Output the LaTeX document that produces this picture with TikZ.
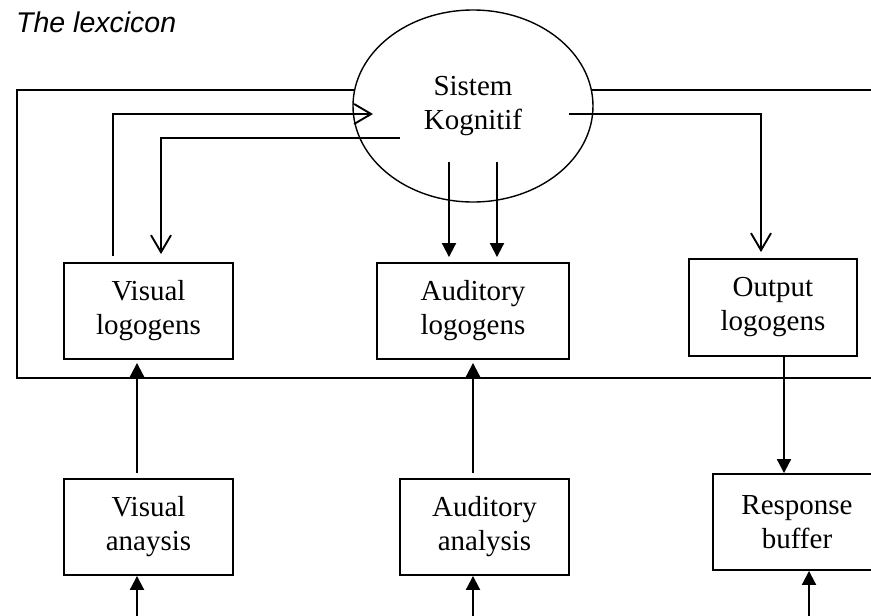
\documentclass[tikz,border=0pt]{standalone}
\usepackage{fontspec}
\setmainfont{Liberation Serif}
\setsansfont{Liberation Sans}
\usetikzlibrary{arrows.meta,shapes.geometric}

\tikzset{box/.style={draw,line width=1.9pt,minimum height=96pt,align=center,inner sep=0pt,font=\fontsize{29}{34}\selectfont},
  fillarr/.style={line width=2pt,-{Triangle[length=14pt,width=14pt]}},
  openarr/.style={line width=1.9pt,-{Straight Barb[length=17pt,width=20pt]}},
  frame/.style={line width=1.4pt}}

\begin{document}
\begin{tikzpicture}[x=1pt,y=-1pt]
        \clip (0,0) rectangle (871,616);
        \node[anchor=base west,font=\sffamily\itshape\fontsize{28.5}{32}\selectfont,inner sep=0pt] (title) at (16,32) {The lexcicon};
        \node[draw,ellipse,line width=1.4pt,minimum width=240pt,minimum height=192pt,align=center,font=\fontsize{29}{34}\selectfont] (kog) at (473,106) {Sistem\\Kognitif};
        \node[box,minimum width=169pt] (vlog) at (148.5,311) {Visual\\logogens};
        \node[box,minimum width=192pt] (alog) at (473,311) {Auditory\\logogens};
        \node[box,minimum width=168pt,minimum height=97pt] (olog) at (773,307.5) {Output\\logogens};
        \node[box,minimum width=169pt] (vana) at (148.5,527) {Visual\\anaysis};
        \node[box,minimum width=169pt] (aana) at (484.5,527) {Auditory\\analysis};
        \node[box,minimum width=168pt] (resp) at (797,522) {Response\\buffer};
        % the lexicon frame
        \draw[frame] (355,90) -- (17,90) -- (17,378) -- (880,378);
        \draw[frame] (591,90) -- (880,90);
        % links with the cognitive system
        \coordinate (vtip) at (373,114);
        \coordinate (vout) at (400,138);
        \coordinate (oout) at (569,114);
        \draw[openarr] ([xshift=-35.5pt,yshift=6pt]vlog.north) |- (vtip);
        \draw[openarr] (vout) -| ([xshift=12.5pt,yshift=8pt]vlog.north);
        \foreach \dx in {-24,24}
            \draw[fillarr] ([xshift=\dx pt,yshift=-56pt]kog.center) -- ([xshift=\dx pt,yshift=5pt]alog.north);
        \draw[openarr] (oout) -| ([xshift=-12pt,yshift=6pt]olog.north);
        % analysis and output
        \draw[fillarr] ([xshift=11pt]olog.south) -- ([xshift=-13pt]resp.north);
        \draw[fillarr] ([xshift=-11.5pt,yshift=5pt]vana.north) -- ([xshift=-11.5pt,yshift=-3pt]vlog.south);
        \draw[fillarr] ([xshift=-11.5pt,yshift=5pt]aana.north) -- ([yshift=-3pt]alog.south);
        \draw[fillarr] ([xshift=-11.5pt,yshift=-50pt]vana.south) -- ([xshift=-11.5pt]vana.south);
        \draw[fillarr] ([xshift=-11.5pt,yshift=-50pt]aana.south) -- ([xshift=-11.5pt]aana.south);
        \draw[fillarr] ([xshift=12pt,yshift=-50pt]resp.south) -- ([xshift=12pt]resp.south);
    \end{tikzpicture}
\end{document}
